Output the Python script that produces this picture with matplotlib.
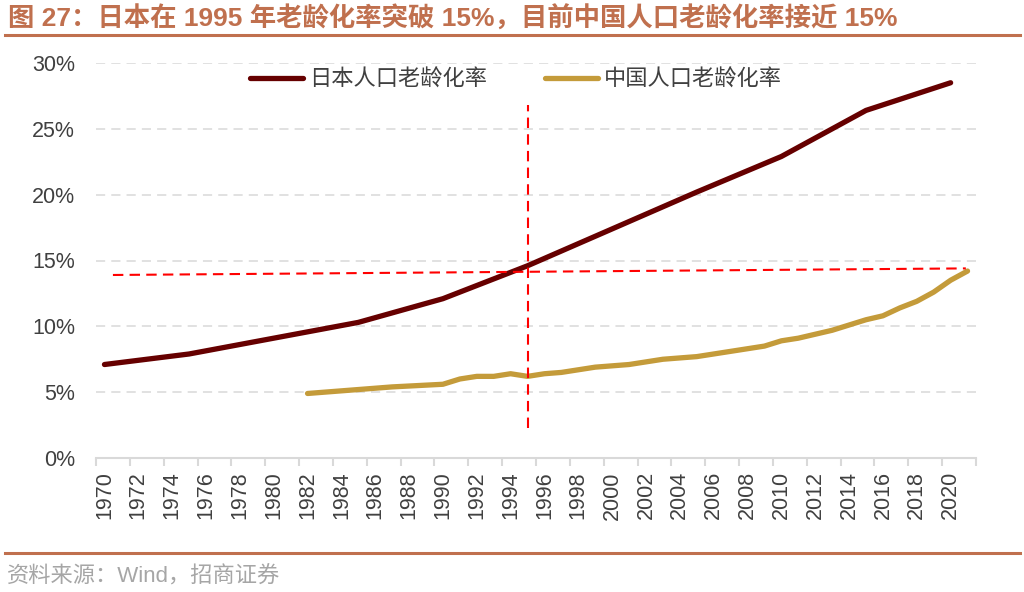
import matplotlib
matplotlib.use("Agg")
import matplotlib.pyplot as plt
from matplotlib.lines import Line2D
from matplotlib.ticker import FuncFormatter

plt.rcParams['font.family'] = ['Liberation Sans', 'Noto Sans CJK SC', 'DejaVu Sans']

# data (%)
years_cat = list(range(1970, 2022))
japan_years = [1970, 1975, 1980, 1985, 1990, 1995, 2000, 2005, 2010, 2015, 2020]
japan_rate = [7.1, 7.9, 9.1, 10.3, 12.1, 14.6, 17.4, 20.2, 22.9, 26.4, 28.5]
china_years = [1982, 1987, 1990, 1991, 1992, 1993, 1994, 1995, 1996, 1997, 1998,
               1999, 2000, 2001, 2002, 2003, 2004, 2005, 2006, 2007, 2008, 2009,
               2010, 2011, 2012, 2013, 2014, 2015, 2016, 2017, 2018, 2019, 2020, 2021]
china_rate = [4.9, 5.4, 5.6, 6.0, 6.2, 6.2, 6.4, 6.2, 6.4, 6.5, 6.7,
              6.9, 7.0, 7.1, 7.3, 7.5, 7.6, 7.7, 7.9, 8.1, 8.3, 8.5,
              8.9, 9.1, 9.4, 9.7, 10.1, 10.5, 10.8, 11.4, 11.9, 12.6, 13.5, 14.2]
tick_years = years_cat[::2]
yticks = [0, 5, 10, 15, 20, 25, 30]

# red guide lines
guide_year = 1995
guide_v = (2.3, 26.8)
guide_h_x = (1970.5, 2020.9)
guide_h_y = (13.9, 14.4)

title = '图 27：日本在 1995 年老龄化率突破 15%，目前中国人口老龄化率接近 15%'
source = '资料来源：Wind，招商证券'
accent = '#C0704E'
text_col = '#404040'

fig = plt.figure(figsize=(10.24, 5.92), dpi=100)
ax = fig.add_axes([96 / 1024, 1 - 458 / 592, 880 / 1024, 395 / 592])

ax.plot(japan_years, japan_rate, color='#660000', lw=3.8,
        solid_capstyle='round', label='日本人口老龄化率', zorder=3)
ax.plot(china_years, china_rate, color='#C49B3A', lw=3.8,
        solid_capstyle='round', label='中国人口老龄化率', zorder=3)

ax.plot([guide_year, guide_year], guide_v, color='#FF0000', lw=1.5,
        dashes=(5, 3), zorder=4)
ax.plot(guide_h_x, guide_h_y, color='#FF0000', lw=1.5, dashes=(5, 3), zorder=4)

ax.set_xlim(years_cat[0] - 0.5, years_cat[-1] + 0.5)
ax.set_ylim(0, 30)
ax.set_yticks(yticks)
ax.yaxis.set_major_formatter(FuncFormatter(lambda v, p: f'{v:.0f}%'))
ax.grid(axis='y', color='#D9D9D9', lw=1.1, dashes=(6, 4))
ax.set_axisbelow(True)

# category boundaries as ticks, labels in the middle of the categories
ax.set_xticks([y - 0.5 for y in tick_years] + [years_cat[-1] + 0.5])
ax.set_xticklabels([])
ax.set_xticks(tick_years, minor=True)
ax.set_xticklabels([str(y) for y in tick_years], minor=True, rotation=90)
ax.tick_params(axis='x', which='major', length=6, width=1.5, color='#D9D9D9')
ax.tick_params(axis='x', which='minor', length=0, pad=9.5, labelsize=15.5,
               labelcolor=text_col)
ax.tick_params(axis='y', length=0, pad=15, labelsize=15.5, labelcolor=text_col)

for s in ['top', 'right', 'left']:
    ax.spines[s].set_visible(False)
ax.spines['bottom'].set_color('#D9D9D9')
ax.spines['bottom'].set_linewidth(1.5)

leg = ax.legend(loc='upper center', bbox_to_anchor=(0.477, 1.035), ncol=2,
                frameon=False, fontsize=16, handlelength=2.4, handletextpad=0.25,
                columnspacing=2.6, labelcolor=text_col)

fig.text(0.008, 0.969, title, fontsize=19, fontweight='bold', color=accent,
         va='center', ha='left')
fig.add_artist(Line2D([5 / 1024, 1020 / 1024], [1 - 35 / 592] * 2,
                      color=accent, lw=2.2))
fig.add_artist(Line2D([5 / 1024, 1020 / 1024], [1 - 553 / 592] * 2,
                      color=accent, lw=2.2))
fig.text(0.007, 1 - 577 / 592, source, fontsize=16, color='#A6A6A6',
         va='center', ha='left')

fig.savefig('out.png', dpi=100)
